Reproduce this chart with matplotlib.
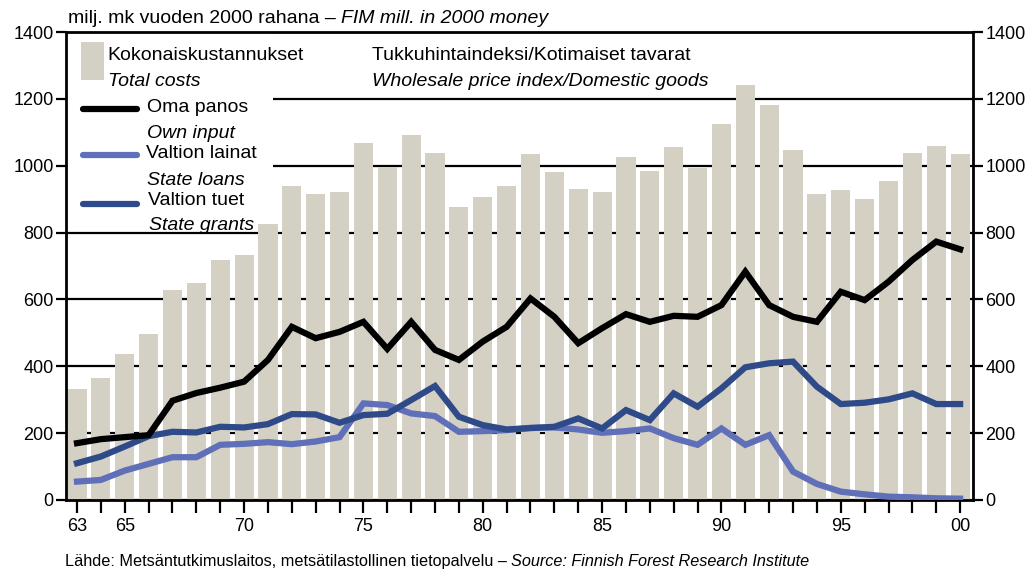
import matplotlib.pyplot as plt
from matplotlib.patches import Rectangle
from matplotlib.lines import Line2D

vuodet = list(range(1963, 2001))

kokonais = [332, 365, 437, 497, 628, 649, 718, 733, 826, 939, 915, 921, 1068,
            996, 1092, 1038, 876, 906, 939, 1035, 981, 930, 921, 1026, 984, 1056,
            993, 1125, 1241, 1182, 1047, 915, 927, 900, 954, 1038, 1059, 1035]

oma_panos = [170, 182, 188, 194, 297, 320, 336, 354, 419, 518, 484, 503, 533,
             452, 533, 449, 419, 474, 518, 603, 548, 469, 514, 556, 533, 551,
             548, 583, 683, 583, 548, 533, 623, 598, 653, 718, 773, 750]

lainat = [55, 60, 88, 108, 128, 128, 165, 168, 173, 167, 175, 188, 289,
          284, 259, 251, 204, 206, 209, 216, 217, 211, 201, 206, 214, 185,
          165, 214, 165, 194, 85, 48, 25, 17, 10, 8, 5, 4]

tuet = [110, 130, 160, 191, 204, 202, 219, 217, 227, 257, 256, 231, 254,
        258, 299, 341, 249, 224, 211, 215, 219, 244, 214, 269, 239, 319,
        279, 334, 397, 409, 414, 339, 287, 291, 301, 319, 287, 287]

x_tikit = [1963, 1965, 1970, 1975, 1980, 1985, 1990, 1995, 2000]
x_nimet = ['63', '65', '70', '75', '80', '85', '90', '95', '00']
y_tikit = [0, 200, 400, 600, 800, 1000, 1200, 1400]

fontti = ['Liberation Sans', 'DejaVu Sans']
plt.rcParams['font.family'] = fontti

c_palkki = '#d4d0c4'
c_oma = '#000000'
c_laina = '#5f6fb8'
c_tuki = '#2f4a88'

fig = plt.figure(figsize=(10.35, 5.72), dpi=100)
ax = fig.add_axes([0.0638, 0.1259, 0.8763, 0.8181])

ax.set_axisbelow(True)
ax.yaxis.grid(True, color='black', linewidth=1.6)

ax.bar(vuodet, kokonais, width=0.8, color=c_palkki, zorder=2)
ax.plot(vuodet, oma_panos, color=c_oma, lw=4.5, zorder=4, solid_joinstyle='miter')
ax.plot(vuodet, lainat, color=c_laina, lw=4.5, zorder=3, solid_joinstyle='miter')
ax.plot(vuodet, tuet, color=c_tuki, lw=4.5, zorder=3.5, solid_joinstyle='miter')

ax.set_xlim(1962.54, 2000.54)
ax.set_ylim(0, 1400)
ax.set_xticks(vuodet, minor=True)
ax.set_xticks(x_tikit)
ax.set_xticklabels(x_nimet)
ax.set_yticks(y_tikit)
ax.tick_params(axis='x', which='both', direction='out', length=9, width=1.6, labelsize=13)
ax.tick_params(axis='y', direction='out', length=7, width=1.6, left=True, right=True,
               labelleft=True, labelright=True, labelsize=13)
ax.tick_params(axis='x', pad=4)
ax.tick_params(axis='y', pad=2)
for s in ax.spines.values():
    s.set_linewidth(2)

# valkoinen selitelaatikko
ax.add_patch(Rectangle((0, 0.655), 0.228, 0.345, transform=ax.transAxes,
                       facecolor='white', edgecolor='none', zorder=1))

# selite
ax.add_patch(Rectangle((0.0165, 0.897), 0.025, 0.081, transform=ax.transAxes,
                       facecolor=c_palkki, edgecolor='none', zorder=5))
rivit = [
    (0.046, 0.950, 'Kokonaiskustannukset', 'normal'),
    (0.046, 0.895, 'Total costs', 'italic'),
    (0.089, 0.838, 'Oma panos', 'normal'),
    (0.089, 0.784, 'Own input', 'italic'),
    (0.088, 0.740, 'Valtion lainat', 'normal'),
    (0.089, 0.683, 'State loans', 'italic'),
    (0.090, 0.641, 'Valtion tuet', 'normal'),
    (0.092, 0.587, 'State grants', 'italic'),
]
for xx, yy, teksti, tyyli in rivit:
    ax.text(xx, yy, teksti, transform=ax.transAxes, fontsize=14, style=tyyli,
            va='center', ha='left', zorder=6)
for yy, vari in [(0.836, c_oma), (0.737, c_laina), (0.632, c_tuki)]:
    ax.add_line(Line2D([0.019, 0.078], [yy, yy], transform=ax.transAxes, color=vari,
                       lw=4.5, solid_capstyle='round', zorder=6))

ax.text(0.337, 0.950, 'Tukkuhintaindeksi/Kotimaiset tavarat', transform=ax.transAxes,
        fontsize=14, va='center', ha='left')
ax.text(0.337, 0.895, 'Wholesale price index/Domestic goods', transform=ax.transAxes,
        fontsize=14, style='italic', va='center', ha='left')

# yläotsikko ja lähde: kursiiviosa jatkuu suoraan tavallisen perään
t1 = fig.text(0.0657, 0.967, 'milj. mk vuoden 2000 rahana \u2013 ', fontsize=14,
              va='center', ha='left')
fig.texts.append(plt.Annotation('FIM mill. in 2000 money', xy=(1, 0.5), xycoords=t1,
                                fontsize=14, style='italic', va='center', ha='left'))
t2 = fig.text(0.0628, 0.0175, 'L\u00e4hde: Mets\u00e4ntutkimuslaitos, mets\u00e4tilastollinen tietopalvelu \u2013 ',
              fontsize=11.7, va='center', ha='left')
fig.texts.append(plt.Annotation('Source: Finnish Forest Research Institute', xy=(1, 0.5),
                                xycoords=t2, fontsize=11.7, style='italic', va='center', ha='left'))
for a in fig.texts[-3:]:
    a.set_figure(fig)

fig.savefig('out.png', dpi=100)
